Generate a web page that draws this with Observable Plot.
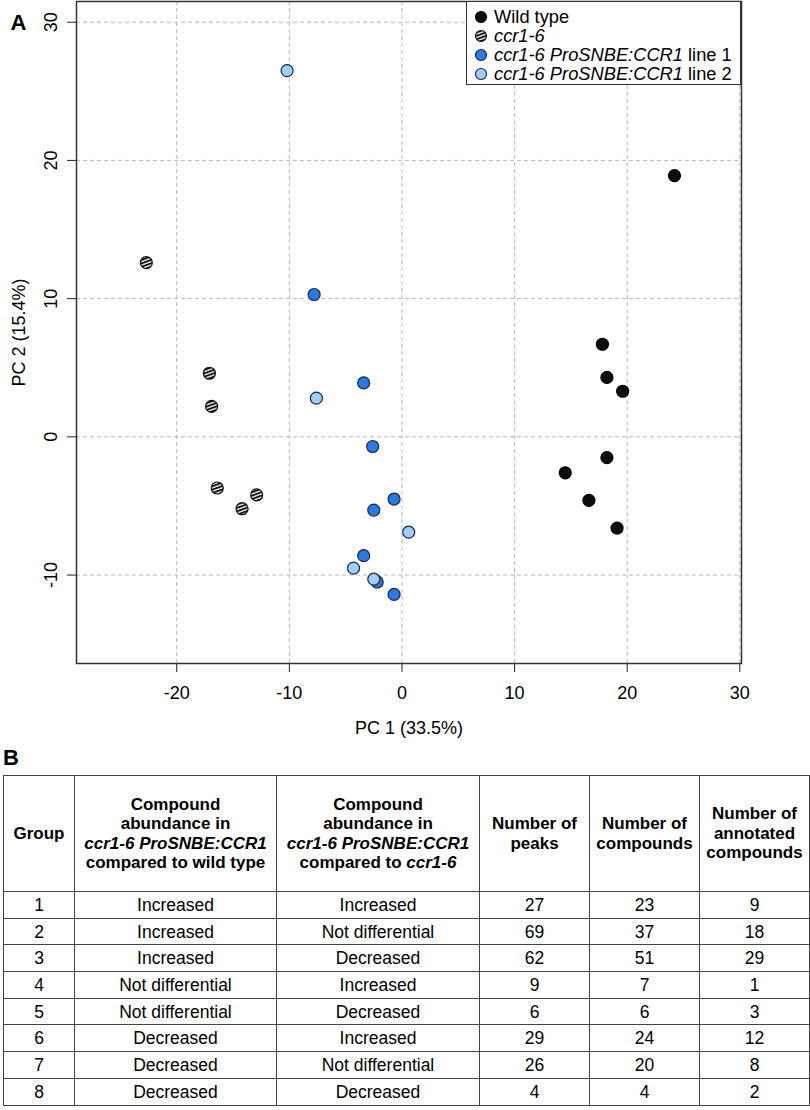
<!DOCTYPE html>
<html><head><meta charset="utf-8">
<script src="https://cdn.jsdelivr.net/npm/d3@7"></script>
<script src="https://cdn.jsdelivr.net/npm/@observablehq/plot@0.6"></script>
<style>
body{margin:0;background:#fff;font-family:"Liberation Sans",Arial,Helvetica,sans-serif;color:#000;}
#wrap{position:relative;width:810px;}
#chart svg{display:block;}
#legend{position:absolute;left:466px;top:1px;width:275px;height:84px;border:1.5px solid #333;background:#fff;box-sizing:border-box;font-size:18.3px;}
.li{position:absolute;left:0;height:19px;line-height:19px;white-space:nowrap;}
.li svg{position:absolute;left:7px;top:3px;}
.li span{position:absolute;left:27px;top:0;}
#blabel{height:28px;padding:5px 0 0 3px;font-weight:bold;font-size:22px;line-height:22px;}
table{margin-left:3px;border-collapse:collapse;table-layout:fixed;width:806px;font-size:17.5px;}
td,th{border:1px solid #444;text-align:center;padding:0;}
th{font-weight:bold;font-size:17px;line-height:19.5px;height:115px;}
td{height:25.7px;line-height:20px;}
</style>
</head><body>
<svg width="0" height="0" style="position:absolute">
  <defs>
    <pattern id="hatch" patternUnits="userSpaceOnUse" width="3.2" height="3.2" patternTransform="rotate(-20)">
      <rect width="3.2" height="3.2" fill="#f2f2f2"></rect>
      <line x1="0" y1="0.9" x2="3.2" y2="0.9" stroke="#111" stroke-width="1.9"></line>
    </pattern>
  </defs>
</svg>
<div id="wrap">
  <div id="chart"></div>
  <div id="legend"></div>
  <div id="blabel">B</div>
  <div id="tablebox"></div>
</div>
<script>
// ---------- Panel A data ----------
const groupNames = ["Wild type", "ccr1-6", "ccr1-6 ProSNBE:CCR1 line 1", "ccr1-6 ProSNBE:CCR1 line 2"];
const wildTypePC1 = [24.2, 17.8, 18.2, 19.6, 18.2, 14.5, 16.6, 19.1];
const wildTypePC2 = [18.9, 6.7, 4.3, 3.3, -1.5, -2.6, -4.6, -6.6];
const ccr16PC1 = [-22.7, -17.1, -16.9, -16.4, -12.9, -14.2];
const ccr16PC2 = [12.6, 4.6, 2.2, -3.7, -4.2, -5.2];
const line1PC1 = [-7.8, -3.4, -2.6, -0.7, -2.5, -3.4, -2.2, -0.7];
const line1PC2 = [10.3, 3.9, -0.7, -4.5, -5.3, -8.6, -10.5, -11.4];
const line2PC1 = [-10.2, -7.6, -4.3, -2.5, 0.6];
const line2PC2 = [26.5, 2.8, -9.5, -10.3, -6.9];
const xTicks = [-20, -10, 0, 10, 20, 30];
const yTicks = [-10, 0, 10, 20, 30];
const xTitle = "PC 1 (33.5%)";
const yTitle = "PC 2 (15.4%)";

// ---------- Panel B data ----------
const tblGroup = [1, 2, 3, 4, 5, 6, 7, 8];
const tblVsWildType = ["Increased", "Increased", "Increased", "Not differential", "Not differential", "Decreased", "Decreased", "Decreased"];
const tblVsCcr16 = ["Increased", "Not differential", "Decreased", "Increased", "Decreased", "Increased", "Not differential", "Decreased"];
const tblPeaks = [27, 69, 62, 9, 6, 29, 26, 4];
const tblCompounds = [23, 37, 51, 7, 6, 24, 20, 4];
const tblAnnotated = [9, 18, 29, 1, 3, 12, 8, 2];

const toPts = (g, xs, ys) => xs.map((x, i) => ({group: g, pc1: x, pc2: ys[i]}));
const wt = toPts(groupNames[0], wildTypePC1, wildTypePC2);
const c16 = toPts(groupNames[1], ccr16PC1, ccr16PC2);
const l1 = toPts(groupNames[2], line1PC1, line1PC2);
const l2 = toPts(groupNames[3], line2PC1, line2PC2);

const styles = {
  [groupNames[0]]: {fill: "#0c0c0c", stroke: "#000"},
  [groupNames[1]]: {fill: "url(#hatch)", stroke: "#111"},
  [groupNames[2]]: {fill: "#2a7ae6", stroke: "#1a2845"},
  [groupNames[3]]: {fill: "#a2cdf6", stroke: "#1a2845"}
};
const R = 6;
const dot = (data, g) => Plot.dot(data, {x: "pc1", y: "pc2", r: R, fill: styles[g].fill, stroke: styles[g].stroke, strokeWidth: 1.2});

const plot = Plot.plot({
  width: 810,
  height: 742,
  marginTop: 1,
  marginBottom: 79,
  marginLeft: 76,
  marginRight: 69,
  style: {fontFamily: '"Liberation Sans", Arial, Helvetica, sans-serif', fontSize: "18px", color: "#000", background: "#fff"},
  x: {domain: [-28.9, 30.15], label: null},
  y: {domain: [-16.4, 31.5], label: null},
  marks: [
    Plot.gridX(xTicks, {stroke: "#b8b8b8", strokeOpacity: 1, strokeDasharray: "4,3"}),
    Plot.gridY(yTicks, {stroke: "#b8b8b8", strokeOpacity: 1, strokeDasharray: "4,3"}),
    Plot.axisX(xTicks, {tickSize: 9, tickPadding: 14, fontSize: 18, label: null, stroke: "#222", tickFormat: d => String(d)}),
    Plot.axisY(yTicks, {tickSize: 9, tickFormat: () => "", label: null, stroke: "#222"}),
    Plot.text(yTicks, {y: d => d, text: d => String(d), frameAnchor: "left", textAnchor: "middle", lineAnchor: "middle", dx: -25, rotate: -90, fontSize: 18}),
    Plot.text([xTitle], {text: d => d, frameAnchor: "bottom", textAnchor: "middle", lineAnchor: "middle", dy: 65, fontSize: 18}),
    Plot.text([yTitle], {text: d => d, frameAnchor: "left", textAnchor: "middle", lineAnchor: "middle", dx: -57, rotate: -90, fontSize: 18}),
    Plot.text(["A"], {text: d => d, frameAnchor: "top-left", dx: -66, dy: 13, fontSize: 22, fontWeight: "bold"}),
    Plot.frame({stroke: "#333", strokeWidth: 1.5}),
    dot(wt, groupNames[0]),
    dot(c16, groupNames[1]),
    dot(l1, groupNames[2]),
    dot(l2, groupNames[3])
  ]
});
document.getElementById("chart").appendChild(plot);

// ---------- Legend ----------
const legendHtml = [
  '<span>Wild type</span>',
  '<span><i>ccr1-6</i></span>',
  '<span><i>ccr1-6 ProSNBE:CCR1</i> line 1</span>',
  '<span><i>ccr1-6 ProSNBE:CCR1</i> line 2</span>'
];
const legendTops = [5, 24, 43, 62];
const legend = document.getElementById("legend");
groupNames.forEach((g, i) => {
  const s = styles[g];
  const div = document.createElement("div");
  div.className = "li";
  div.style.top = legendTops[i] + "px";
  div.innerHTML = `<svg width="14" height="14"><circle cx="7" cy="7" r="${R - 0.5}" fill="${s.fill}" stroke="${s.stroke}" stroke-width="1.2"></circle></svg>` + legendHtml[i];
  legend.appendChild(div);
});

// ---------- Table ----------
const headers = [
  "Group",
  "Compound<br>abundance in<br><i>ccr1-6 ProSNBE:CCR1</i><br>compared to wild type",
  "Compound<br>abundance in<br><i>ccr1-6 ProSNBE:CCR1</i><br>compared to <i>ccr1-6</i>",
  "Number of<br>peaks",
  "Number of<br>compounds",
  "Number of<br>annotated<br>compounds"
];
const colWidths = [71, 202, 203, 110, 110, 110];
let html = "<table><colgroup>" + colWidths.map(w => `<col style="width:${w}px">`).join("") + "</colgroup><tr>";
html += headers.map(h => `<th>${h}</th>`).join("") + "</tr>";
tblGroup.forEach((g, i) => {
  html += `<tr><td>${g}</td><td>${tblVsWildType[i]}</td><td>${tblVsCcr16[i]}</td><td>${tblPeaks[i]}</td><td>${tblCompounds[i]}</td><td>${tblAnnotated[i]}</td></tr>`;
});
html += "</table>";
document.getElementById("tablebox").innerHTML = html;
</script>
</body></html>
